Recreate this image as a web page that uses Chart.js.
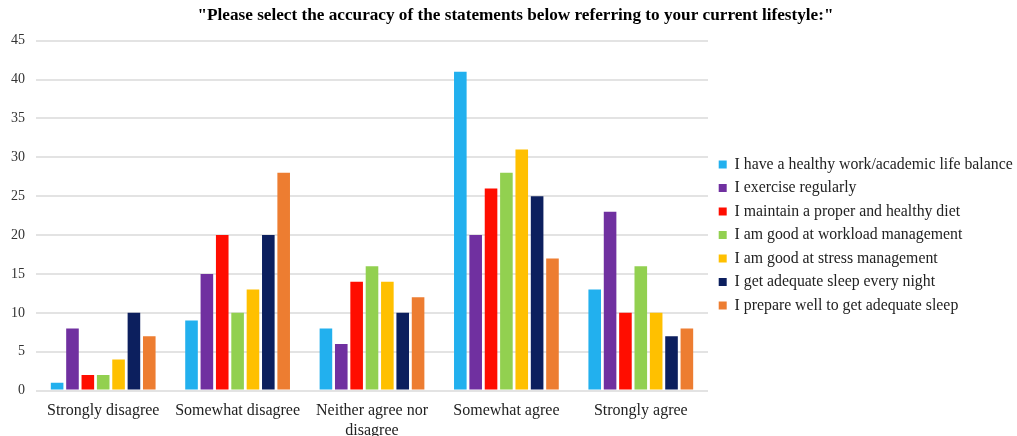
<!DOCTYPE html>
<html>
<head>
<meta charset="utf-8">
<script src="https://cdn.jsdelivr.net/npm/chart.js@4/dist/chart.umd.min.js"></script>
<style>
  html, body { margin: 0; padding: 0; background: #fff; }
  #wrap { width: 1017px; height: 436px; }
</style>
</head>
<body>
<div id="wrap"><canvas id="myChart" width="1017" height="436"></canvas></div>
<script>
const categories = ['Strongly disagree', 'Somewhat disagree', ['Neither agree nor', 'disagree'], 'Somewhat agree', 'Strongly agree'];

const seriesNames = [
  'I have a healthy work/academic life balance',
  'I exercise regularly',
  'I maintain a proper and healthy diet',
  'I am good at workload management',
  'I am good at stress management',
  'I get adequate sleep every night',
  'I prepare well to get adequate sleep'
];

const lifeBalance = [1, 9, 8, 41, 13];
const exercise = [8, 15, 6, 20, 23];
const diet = [2, 20, 14, 26, 10];
const workload = [2, 10, 16, 28, 16];
const stress = [4, 13, 14, 31, 10];
const sleepNight = [10, 20, 10, 25, 7];
const sleepPrep = [7, 28, 12, 17, 8];

const seriesValues = [lifeBalance, exercise, diet, workload, stress, sleepNight, sleepPrep];
const colors = ['#22B0EE', '#7030A0', '#FF0D00', '#92D050', '#FFC000', '#0C1F5E', '#ED7D31'];

const serif = "'Liberation Serif', 'Times New Roman', serif";

// small position tweaks for the legend and the title, like in the original figure
const nudge = {
  id: 'nudge',
  afterLayout(chart) {
    chart.legend.top += 15;
    chart.legend.bottom += 15;
    chart.legend.left += 3;
    chart.legend.right += 3;
    chart.titleBlock.left += 14;
  }
};

const ctx = document.getElementById('myChart').getContext('2d');

new Chart(ctx, {
  type: 'bar',
  data: {
    labels: categories,
    datasets: seriesValues.map((vals, i) => ({
      label: seriesNames[i],
      data: vals,
      backgroundColor: colors[i],
      borderWidth: 0,
      categoryPercentage: 0.8,
      barPercentage: 0.82
    }))
  },
  options: {
    responsive: false,
    animation: false,
    layout: { padding: { left: 0, right: 0, top: 4, bottom: 0 } },
    plugins: {
      title: {
        display: true,
        text: '"Please select the accuracy of the statements below referring to your current lifestyle:"',
        color: '#000',
        font: { family: serif, size: 17.2, weight: 'bold' },
        padding: { top: 1, bottom: 15 }
      },
      legend: {
        position: 'right',
        maxWidth: 309,
        labels: {
          color: '#222',
          font: { family: serif, size: 15.8 },
          boxWidth: 8,
          boxHeight: 8,
          padding: 7.7
        }
      },
      tooltip: { enabled: false }
    },
    scales: {
      x: {
        grid: { display: false },
        border: { display: false },
        afterFit(scale) { scale.height -= 7; },
        ticks: {
          color: '#222',
          font: { family: serif, size: 16 },
          maxRotation: 0,
          autoSkip: false
        }
      },
      y: {
        min: 0,
        max: 45,
        ticks: {
          stepSize: 5,
          color: '#333',
          font: { family: serif, size: 14 },
          padding: 11
        },
        grid: { color: '#e3e3e3', lineWidth: 2, drawTicks: false },
        border: { display: false }
      }
    }
  },
  plugins: [nudge]
});
</script>
</body>
</html>
